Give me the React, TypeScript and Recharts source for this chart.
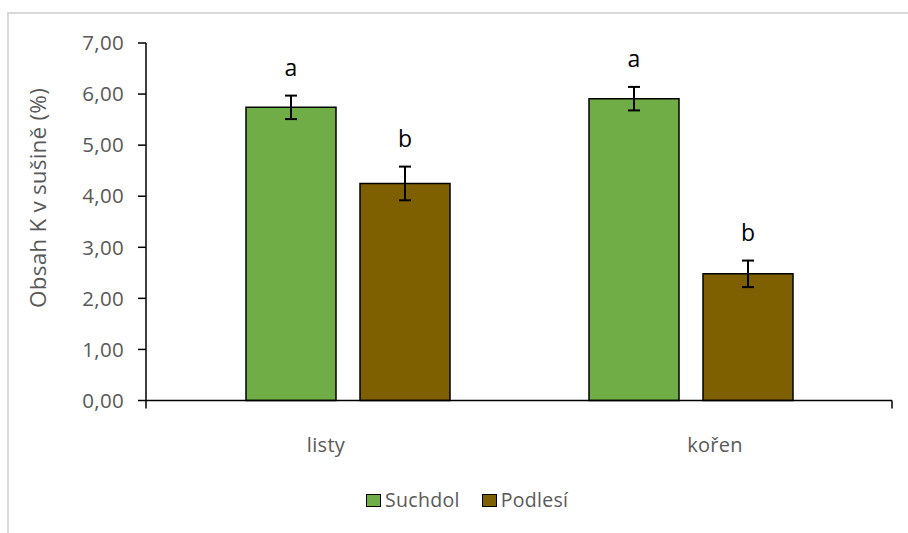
import React from 'react';
import * as Recharts from 'recharts';
import { BarChart, Bar, XAxis, YAxis, ErrorBar, LabelList, Legend } from 'recharts';

const FONT = '"Open Sans", "DejaVu Sans", sans-serif';
const GRAY = '#595959';

const categories = ['listy', 'kořen'];
const seriesNames = ['Suchdol', 'Podlesí'];
const suchdolValues = [5.74, 5.91];
const podlesiValues = [4.25, 2.48];
const suchdolErrors = [0.23, 0.23];
const podlesiErrors = [0.33, 0.26];
const suchdolLetters = ['a', 'a'];
const podlesiLetters = ['b', 'b'];
const yTicks = [0, 1, 2, 3, 4, 5, 6, 7];
const COLORS = ['#70AD47', '#7F6000'];

const data = categories.map((c, i) => ({
  category: c,
  suchdol: suchdolValues[i],
  podlesi: podlesiValues[i],
  suchdolErr: suchdolErrors[i],
  podlesiErr: podlesiErrors[i],
}));

const LABEL_SHIFT = [-21.5, 24.5];

function CategoryTick(props: any) {
  const { x, y, payload, index } = props;
  return (
    <text
      x={x + (LABEL_SHIFT[index] ?? 0)}
      y={y}
      dy="0.71em"
      textAnchor="middle"
      fill={GRAY}
      fontSize={20}
      fontFamily={FONT}
      letterSpacing={0.3}
    >
      {payload.value}
    </text>
  );
}

const makeLetterLabel = (letters: string[], errors: number[]) => (props: any) => {
  const vb = props.viewBox || {};
  const x = props.x ?? vb.x;
  const y = props.y ?? vb.y;
  const width = props.width ?? vb.width;
  const height = props.height ?? vb.height;
  const idx = props.index;
  const value = Number(props.value);
  const ppu = Math.abs(height) / value;
  const top = Math.min(y, y + height) - errors[idx] * ppu - 20;
  return (
    <text x={x + width / 2} y={top} textAnchor="middle" fontSize={23} fill="#000" fontFamily={FONT}>
      {letters[idx]}
    </text>
  );
};

const usePlotAreaSafe: () => any = (Recharts as any).usePlotArea ?? (() => null);

function AxisEndTicks() {
  const area = usePlotAreaSafe();
  if (!area) return null;
  const yb = area.y + area.height;
  return (
    <g>
      {[area.x, area.x + area.width].map((xx: number, i: number) => (
        <line key={i} x1={xx} x2={xx} y1={yb} y2={yb + 8} stroke="#000" strokeWidth={1.5} />
      ))}
    </g>
  );
}

function LegendContent() {
  return (
    <div style={{ display: 'flex', alignItems: 'center', height: 22, fontFamily: FONT }}>
      {seriesNames.map((n, i) => (
        <div key={n} style={{ display: 'flex', alignItems: 'center', marginRight: 22 }}>
          <span
            style={{
              display: 'inline-block',
              width: 15,
              height: 13,
              boxSizing: 'border-box',
              border: '1.5px solid #000',
              background: COLORS[i],
              marginRight: 4,
            }}
          />
          <span style={{ fontSize: 19.5, color: GRAY, lineHeight: '22px', letterSpacing: 0.3 }}>{n}</span>
        </div>
      ))}
    </div>
  );
}

function YTitle() {
  return (
    <text
      x={37}
      y={198}
      transform="rotate(-90, 37, 198)"
      textAnchor="middle"
      dominantBaseline="central"
      fill={GRAY}
      fontSize={22.5}
      fontFamily={FONT}
      letterSpacing={0.2}
    >
      Obsah K v sušině (%)
    </text>
  );
}

export default function App() {
  return (
    <div style={{ position: 'fixed', left: 0, top: 0, width: 908, height: 533, overflow: 'hidden', fontFamily: FONT, background: '#fff' }}>
      <div
        style={{
          position: 'absolute',
          left: 7,
          top: 12,
          width: 1000,
          height: 600,
          borderTop: '2px solid #d9d9d9',
          borderLeft: '2px solid #d9d9d9',
        }}
      />
      <div style={{ position: 'absolute', left: 0, top: 0 }}>
        <BarChart
          width={908}
          height={533}
          data={data}
          margin={{ top: 43, right: 16, bottom: 72.5, left: 0 }}
          barGap={24}
        >
          <XAxis
            dataKey="category"
            padding={{ left: 30, right: 30 }}
            axisLine={{ stroke: '#000', strokeWidth: 1.5 }}
            tickLine={false}
            tickSize={0}
            tickMargin={37}
            height={60}
            tick={<CategoryTick />}
            interval={0}
          />
          <YAxis
            domain={[0, 7]}
            ticks={yTicks}
            interval={0}
            width={146}
            axisLine={{ stroke: '#000', strokeWidth: 1.5 }}
            tickLine={{ stroke: '#000', strokeWidth: 1.5 }}
            tickSize={8}
            tickMargin={14}
            tick={{ fill: GRAY, fontSize: 20.5, fontFamily: FONT, letterSpacing: 0.3 }}
            tickFormatter={(v: number) => v.toFixed(2).replace('.', ',')}
            label={<YTitle />}
          />
          <Bar dataKey="suchdol" name={seriesNames[0]} fill={COLORS[0]} stroke="#000" strokeWidth={1.5} barSize={90} isAnimationActive={false}>
            <ErrorBar dataKey="suchdolErr" width={6} stroke="#000" strokeWidth={2} isAnimationActive={false} />
            <LabelList dataKey="suchdol" content={makeLetterLabel(suchdolLetters, suchdolErrors)} />
          </Bar>
          <Bar dataKey="podlesi" name={seriesNames[1]} fill={COLORS[1]} stroke="#000" strokeWidth={1.5} barSize={90} isAnimationActive={false}>
            <ErrorBar dataKey="podlesiErr" width={6} stroke="#000" strokeWidth={2} isAnimationActive={false} />
            <LabelList dataKey="podlesi" content={makeLetterLabel(podlesiLetters, podlesiErrors)} />
          </Bar>
          <AxisEndTicks />
          <Legend
            layout="vertical"
            verticalAlign="middle"
            align="center"
            wrapperStyle={{ position: 'absolute', left: 366, top: 489, width: 'auto', height: 'auto', margin: 0 }}
            content={<LegendContent />}
          />
        </BarChart>
      </div>
    </div>
  );
}
